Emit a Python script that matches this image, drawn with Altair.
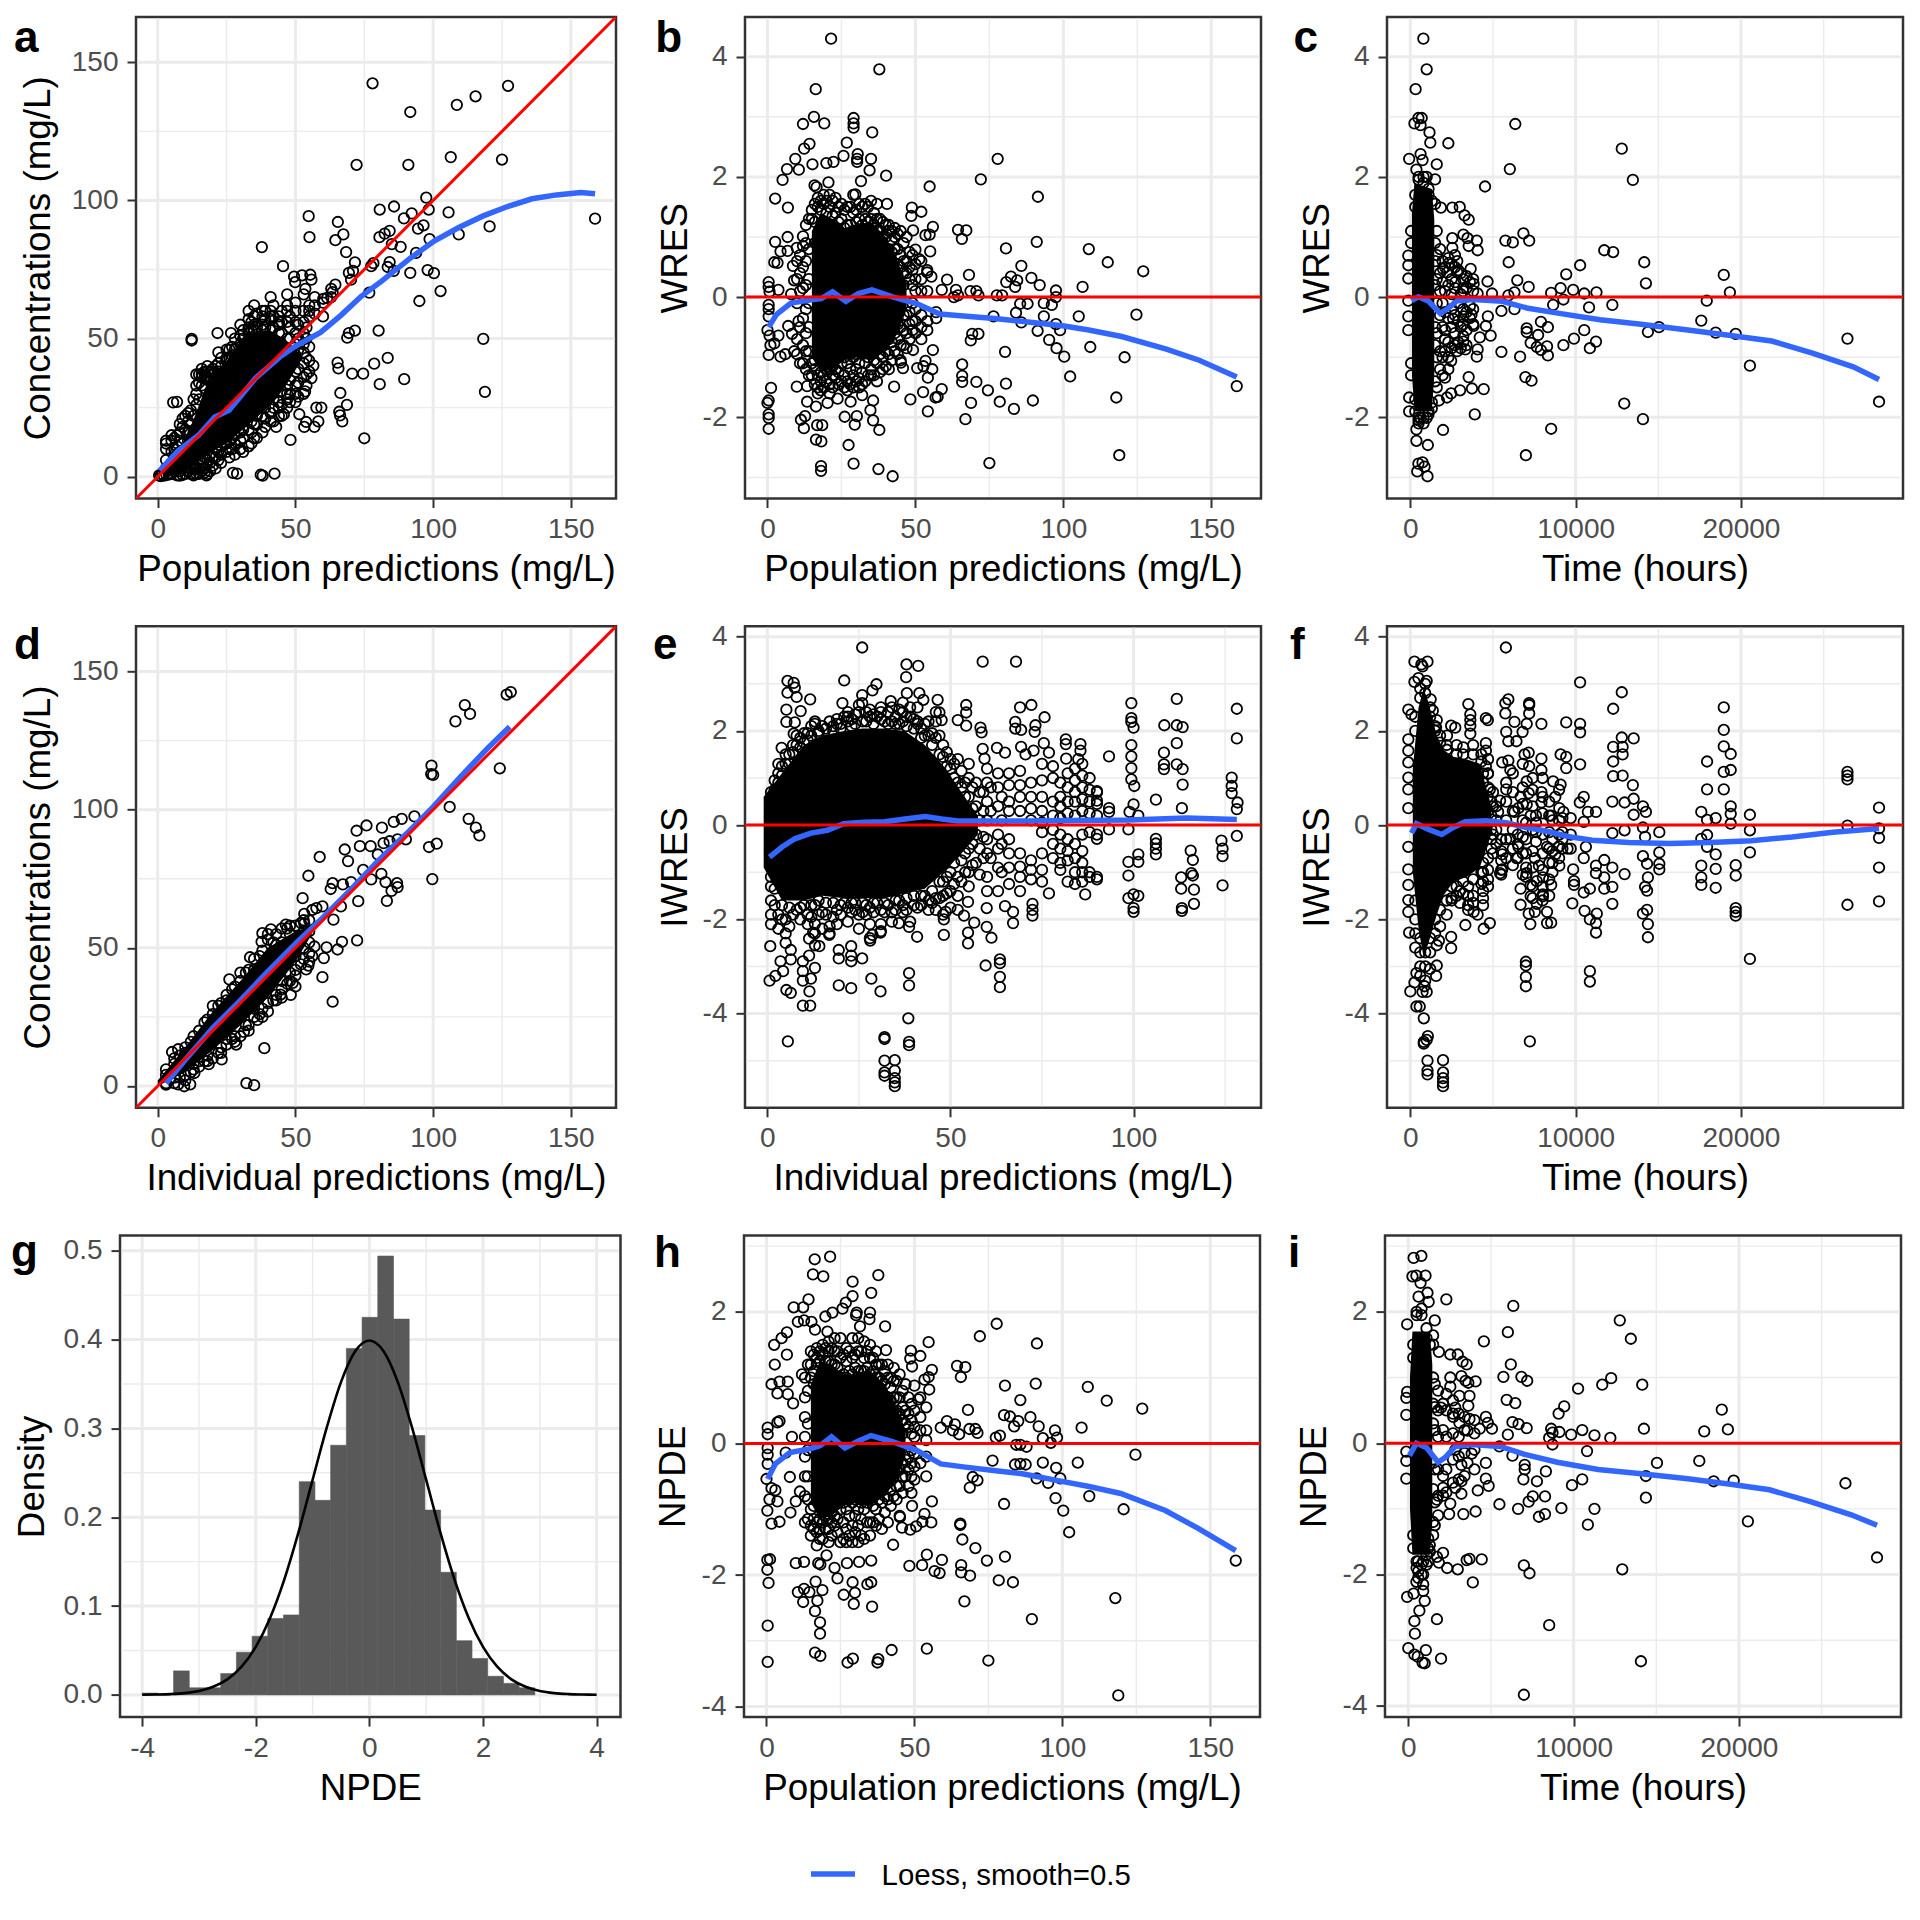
import altair as alt
import pandas as pd

FONT = "Liberation Sans"
GRID = "#EBEBEB"
BORDER = "#333333"
BLUE = "#3366FF"
RED = "#FF0000"

# ---------- panel a ----------
a_pts = [(78,142.4),(91.7,132),(108.6,134.6),(115.4,137.7),(127.2,141.5),(72.2,112.9),(91,112.9),(106.4,115.7),(125,114.8),(97.5,101),
(80.6,96.7),(85.8,97.8),(92.2,95.3),(98.4,96.7),(105.6,95.7),(120.5,90.6),(158.8,93.4),(89.4,93.5),(96.5,91),(109.3,87.7),(94.5,89.8),(98.7,86),
(80.5,86.7),(82.4,88),(84.2,89),(88.2,83.2),(85,84.2),(93.8,81),(84.2,77.7),(98,74.8),(100.3,73.7),(91.7,73.8),(85.7,74.5),(83.5,75.9),(102.7,67.2),
(95,63.6),(76.8,66.6),(78.3,77.3),(77.5,76.2),(71.6,77.6),(68.4,81.3),(64.5,85.6),(67.4,87.7),(65.4,92.2),(54.8,94.3),(55.1,86.7),(37.8,83.1),(45.5,76.2),
(49.5,72.4),(52.4,72.9),(55.4,73.1),(55.8,71.3),(49.9,70.4),(53.6,68),(69.4,73.8),(70.9,74.5),(70.2,71.3),(64.5,69.5),(63.5,66.8),(60.1,64.4),(61.5,64.7),
(12.3,49.9),(12.3,49.3),(21.7,52),(26.6,52),(80.2,52.9),(71.6,52.9),(69.4,52),(68.8,50.3),(118.2,49.9),(83.5,43),(78.6,40.9),(65.3,41.3),(65.6,39.2),
(70.6,37.3),(74.6,37.3),(89.5,35.3),(80.6,33.5),(118.8,30.7),(66.3,30.3),(68.7,26),(65.9,23.5),(66.2,22.2),(67,20),(75,13.9),(5.6,26.9),(7,27.1),(48.2,13.3),
(43,18),(57.6,25),(59.4,25),(58.3,20),(53.9,19.8),(53.2,18),(56.9,18),(51.4,22.6),(45.8,22.6),(53.5,30.9),(55.8,35.7),(56.5,40.2),(27.3,1.4),(28.8,1.1),
(37.4,.7),(38.1,.4),(42.4,1.1),(17.7,.5),(8,.4),(13,.5),(.5,.5),(1,.2),(1.6,1),(2.2,.4),(3.2,.6),(4.2,.8)]
a_cols = {3:[3,6,10,12,13],5:[1,5,9,13,15],7:[.5,3,8,15,11],9:[.6,6,12,18,21],10:[22,17,1],12:[19,24,3,1],14:[30,37,26,1,3,33],16:[37,33,39,2,5,36],18:[38,36,35,1,6,40],
20:[39,37,7,4,34],22:[41,45,9,6,38],25:[46,42,12,9,38,43],27:[47,44,10,14,40],30:[55,48,13,10,16,45,51],33:[54,60,57,11,17,52],35:[62,58,55,14,19,53],38:[55,58,16,22,60,53],
41:[65,60,58,57,23,20,53],44:[58,56,55,22,27,25,52],47:[66,60,56,50,25,28,33,62,30],50:[63,60,56,52,27,30,38,44,33,48],53:[66,60,52,48,45,30,41,36,56],55:[58,62,47,42,38,60],57:[62,65,59],60:[63,58],63:[65,68],
6:[2,4,7,10,14],8:[2,5,9,13,16,19],11:[2,6,13,16,20,23],13:[1,3,5,16,22,28],15:[1,3,6,28,34,37],17:[1.5,3,7,32,36,38],19:[2,5,8,35,38],21:[3,7,10,36,40],23:[5,8,11,40,43],26:[7,10,13,43,46],28:[8,12,15,46,50],31:[9,14,17,50,53],34:[12,16,20,53,56],36:[14,19,22,54,59],39:[18,21,25,54,57,60],42:[20,25,28,54,58,62],45:[22,26,31,52,56,60],48:[27,30,35,50,54,58],51:[29,34,39,46,50,55],54:[33,37,43,50,54]}
a_core_x = [2,8,12,18,25,32,40,46,52]
a_core_lo = [0,1,3,8,12,18,25,32,42]
a_core_hi = [3,10,18,34,42,52,53,50,44]
a_loess = [(.7,2.2),(7.4,9.4),(14.8,15),(20.7,21.6),(25.9,24),(31,30.2),(35.5,35.7),(44.3,43.3),(50.2,47.4),(59.1,52.2),(66.5,58.4),(73.9,65.3),(81.3,70.8),(91.7,79.1),(100.5,85.4),(109.3,90.2),(118.2,94.4),(127,97.8),(135.9,100.6),(144.8,102),(153.6,102.9),(158.8,102.4)]

# ---------- panel d ----------
d_pts = [(128.2,142.6),(126.7,141.7),(111.5,137.9),(113.4,134.7),(108.1,132),(124.2,115),(99.4,116),(99.3,112.9),(100,112.6),(106,101),(112.9,96.7),(115.5,93.5),(116.8,90.7),
(98.5,86.5),(101.3,87.7),(99.7,74.9),(93.2,97.6),(88.6,96.7),(85.7,95.6),(81.4,93.5),(75.8,94.3),(72.2,92.4),(77.3,86.8),(73.4,86.8),(67.9,85.6),(82,87.9),(84.2,88.6),(87.1,89.3),(90.1,89.3),
(79.9,83.8),(69.1,81.4),(58.8,82.9),(54.7,76.1),(74.6,78.2),(77.5,74.8),(81.2,76.8),(82.7,73.8),(86.9,73.4),(87.1,72),(84.9,70.6),(83.2,67),(72.8,66.9),(63.5,73.4),(67.2,73),(70.2,73.8),(62.8,71.3),
(52.6,68),(57.6,64.4),(59.8,65),(56.1,63.7),(53.2,62.3),(63.8,60.2),(66.5,65),(46.5,58.4),(53.2,58.8),(41.1,56.7),(38,55.3),(37.7,52.2),(72.4,52.7),(66.9,52.2),(65.3,49.4),(61.3,50.2),(60.3,46.3),
(59.8,39.4),(63.5,30.5),(53.9,42.2),(56.9,50.5),(56.1,47),(54.7,43.6),(49,37.3),(48.3,33),(33.5,46.6),(26,38.6),(44.6,33.1),(36.2,23.9),(31.3,19.6),(28.5,15),(38.7,13.7),(23.2,9.6),(18.5,7.9),
(32.2,1),(35,.3),(5.2,12.3),(7.4,13.3),(13.3,4.7),(11.8,.6),(9.6,-.1),(7.4,.6)]
d_cols = {3:[4,6,1,.5],6:[8,10,1,3],10:[14,2,4,12],13:[18,6,8],15:[20,7,9],18:[24,9,11],20:[29,10,26],23:[30,14,12],25:[33,15,17,31],28:[36,18,16],30:[41,18,38],33:[42,22,20],35:[46,42,25,28],38:[49,28,25],
40:[53,55,27,30],43:[55,33,31,51],45:[57,52,35,38,32],48:[58,38,41,55],50:[58,40,42,36,47],53:[60,46,50,56],55:[56,60,52,48,45],8:[11,3],12:[16,5],17:[23,9],22:[29,12],27:[35,17],32:[41,22],37:[47,26],42:[52,31],47:[57,37],52:[59,44]}
d_core_x = [0,10,20,30,40,50,56]
d_core_lo = [0,5,13,22,32,45,55]
d_core_hi = [2,14,27,38,50,56,58]
d_loess = [(3,1),(10,9.5),(20,21),(30,31),(40,41.5),(50,51.5),(60,61),(70,71),(80,81.5),(90,91),(100,101),(110,112),(120,122.5),(127.8,130)]

# ---------- panel b ----------
b_pts = [(21.5,4.3),(37.8,3.79),(16.3,3.46),(15.7,3),(29.1,2.98),(29.1,2.89),(29.1,2.82),(12,2.88),(19.2,2.89),(35.4,2.74),(26.8,2.57),(14.2,2.55),(12.4,2.47),(25.7,2.35),(30.5,2.38),(30.3,2.3),(30.3,2.25),
(35,2.3),(9.4,2.3),(15.2,2.21),(19.9,2.23),(22.3,2.25),(6.6,2.13),(10.6,2.12),(34.5,2.11),(40.1,2.02),(5.1,1.95),(31.6,1.93),(20.6,1.91),(15.9,1.86),(16.6,1.83),(54.8,1.84),(72.1,1.96),(77.8,2.3),(91.4,1.67),
(2.6,1.64),(6.9,1.49),(29.7,1.71),(40.4,1.55),(48.8,1.49),(48.6,1.35),(52,1.42),(55.9,1.17),(54.8,1.04),(53.4,1.03),(49.2,1.11),(64.4,1.12),(67.2,1.11),(65.7,.97),(80.6,.81),(91,.92),(108.6,.8),(115,.58),(127,.43),
(85.8,.52),(55,.76),(50,.79),(51.3,.63),(68.1,.37),(82.3,.34),(80.7,.25),(84.4,.28),(89.2,.32),(92,.2),(106.5,.17),(83.7,.17),(97.5,.11),(54,.41),(55.4,.34),(60.7,.29),(58.9,.12),(63.7,.12),(63,0),(64.4,.03),(68.6,.1),(70.6,.1),(71.3,.03),
(77.5,.03),(79.3,.03),(97.5,0),(96.1,-.13),(93.4,-.1),(87.9,-.11),(85.4,-.11),(105.2,-.32),(124.7,-.29),(93.4,-.32),(84,-.26),(85.8,-.42),(76.4,-.32),(97.5,-.45),(98.9,-.55),(91.3,-.56),(71.3,-.61),(69.2,-.61),(68.7,-.72),
(95.2,-.71),(109.1,-.83),(97.7,-.85),(80.3,-.91),(100.3,-.99),(120.7,-1),(102.3,-1.32),(158.6,-1.48),(55.9,-.88),(49.2,-.88),(53.4,-1.06),(55.7,-1.2),(45.1,-1.09),(45.8,-1.18),(50.6,-1.18),(52.7,-1.15),(65.8,-1.12),(65.8,-1.31),(65.8,-1.41),
(54.2,-1.34),(70.6,-1.41),(74.5,-1.55),(80.6,-1.44),(52.6,-1.58),(58.9,-1.53),(57.5,-1.66),(56.8,-1.67),(48.3,-1.7),(42.8,-1.49),(68.8,-1.76),(78.5,-1.74),(89.7,-1.72),(83.3,-1.86),(54.2,-1.9),(66.9,-2.03),(117.9,-1.67),(118.9,-2.63),(75,-2.76),
(42.3,-2.98),(37.5,-2.86),(29.1,-2.77),(18.1,-2.81),(18.1,-2.89),(27.4,-2.46),(16.4,-2.37),(18.2,-2.4),(37.8,-2.21),(35.7,-2.05),(29.5,-2.12),(30.2,-1.98),(26.1,-1.99),(16.8,-2.13),(18.5,-2.13),(11.3,-2.04),(12.3,-2.18),(12.7,-1.98),
(.4,-2.19),(.4,-2.01),(.4,-1.95),(0,-1.76),(.4,-1.72),(1.2,-1.51),(13.4,-1.74),(16.4,-1.82),(20.3,-1.76),(23.7,-1.69),(28.1,-1.74),(32,-1.63),(35.7,-1.72),(34.8,-1.88),(9.9,-1.49),(13.4,-1.48),
(.4,.25),(.4,.17),(.7,.09),(3.7,.12),(.4,-.13),(.4,-.2),(.4,-.32),(0,-.55),(.7,-.64),(1,-.8),(.4,-.96),(4.4,-.99),(2.3,-.77),(3.7,-.64),(2.6,.92),(4.4,.76),(3.4,.57),(6.8,1),(6.8,.77),(2.3,.58),(8.6,.52),(9,.28),(12,1.01),(9.9,.82),(7,-.48),(8.3,-.61),(6,-.95),(9,-.9),(10.5,-.4),(8,.05)]
b_cols = {11:[.7,.4,.1,-.5,-1.1],13:[1.2,.9,.6,.2,-.2,-.6,-.9,-1.2],15:[1.45,1.3,-1.1,-1.3],17:[1.65,1.5,-1.3,-1.5,-1.6],19:[1.7,1.55,-1.3,-1.5],21:[1.7,1.5,-1.2,-1.45,-1.6],23:[1.65,1.4,-1.2,-1.35,.7,-.4],25:[1.55,1.3,1,.85,-.8,-1.1,-1.4],27:[1.5,1.2,1,.8,-.8,-1.1,-1.4,-1.55],29:[1.7,1.4,1.1,-.7,-1,-1.3,-1.5],31:[1.55,1.3,1.1,-.7,-1.1,-1.35,-1.5],33:[1.55,1.3,1.1,-.8,-1.1,-1.4],35:[1.6,1.3,1.1,-.8,-1.2,-1.3],37:[1.55,1.3,1.1,-.8,-1.1,-1.4],39:[1.25,1,.85,-.8,-1,-1.2],41:[1.2,1.1,.8,-.7,-.95,-1.2],43:[1.15,1,.8,-.6,-.9],45:[1.1,.7,.5,-.5,-.8,-1.05],47:[1,.6,.4,-.3,-.6,-.85],49:[.7,.45,.2,-.1,-.4,-.55],52:[.6,.3,.1,-.3,-.5,-.7],54:[.45,.1,-.4,-.55],57:[-.25,-.35],
14:[1.3,.8,.3,-.1,-.5,-.9,-1.3],16:[1.55,1.25,.9,-1.05,-1.2,-1.45],18:[1.6,1.45,-1.25,-1.4,-1.55],20:[1.6,1.4,-1.2,-1.4],22:[1.6,1.35,-1.15,-1.3,-1.5],24:[1.5,1.25,.9,.7,-.9,-1.25,-1.45],26:[1.45,1.15,.9,.75,-.85,-1,-1.3,-1.5],28:[1.5,1.2,.95,.8,-.75,-.95,-1.2,-1.45],30:[1.45,1.25,1,-.7,-.95,-1.2,-1.4],32:[1.5,1.2,1.05,-.75,-.95,-1.25,-1.45],34:[1.5,1.25,1.05,-.8,-1,-1.3],36:[1.4,1.2,1.05,-.75,-1.05,-1.3],38:[1.3,1.1,.9,-.7,-.95,-1.25],40:[1.2,1,.8,-.65,-.9,-1.15],42:[1.1,.95,.75,.45,-.5,-.75,-1.05],44:[1.05,.8,.55,.35,-.45,-.7,-.95],46:[.9,.6,.4,.2,-.3,-.55,-.8],48:[.75,.5,.3,-.25,-.45,-.7],50:[.55,.3,.1,-.2,-.4,-.6],10:[.6,.3,-.1,-.7,-.95],12:[.85,.5,.15,-.35,-.8,-1.1]}
b_core_x = [15,18,22,26,30,35,40,44,47]
b_core_lo = [-1,-1.25,-1.2,-1.05,-1,-1.05,-.9,-.6,-.2]
b_core_hi = [1.1,1.4,1.3,1.15,1.2,1.25,1,.6,.2]
b_loess = [(.4,-.5),(3,-.29),(7.9,-.1),(14.8,-.045),(18.2,-.025),(22,.09),(26.5,-.07),(30.7,.06),(35.3,.12),(42.3,.005),(50.6,-.11),(58.2,-.28),(67.2,-.32),(76.8,-.356),(86.5,-.407),(100.3,-.48),(108.6,-.547),(119.7,-.655),(134.8,-.865),(145.9,-1.05),(158.6,-1.33)]

# ---------- panel c ----------
c_pts = [(790,4.3),(990,3.79),(320,3.46),(490,2.98),(690,2.98),(250,2.89),(620,2.86),(1160,2.74),(1210,2.57),(2300,2.56),(6350,2.88),(6020,2.13),(12790,2.47),(13460,1.95),(4520,1.84),(-70,2.3),(620,2.38),(740,2.28),(1600,2.21),(1500,1.96),(990,2),(370,2.12),
(1850,1.49),(2540,1.49),(2990,1.5),(3280,1.36),(3530,1.29),(3210,1.04),(2540,.98),(3460,.98),(4020,.94),(3530,.85),(4070,.78),(2540,.82),(6840,1.06),(5750,.94),(6200,.91),(7190,.94),(5950,.58),(11730,.78),(12270,.75),(14150,.58),(14250,.23),(10270,.53),(9430,.38),
(18960,.37),(19330,.08),(4670,.26),(6470,.28),(7160,.17),(9090,.15),(9850,.12),(8520,.07),(10520,.06),(11260,.08),(2840,.6),(2350,.57),(1980,.47),(3650,.47),(2840,.41),(2220,.41),(2720,.25),(3210,.15),(3830,.22),(4070,.06),(4940,.06),(5930,.03),(6300,.08),
(-120,.69),(-120,.53),(-120,.31),(-120,-.06),(-120,-.32),(-120,-.55),(17930,-.06),(17600,-.39),(12220,-.13),(10810,-.17),(8640,-.13),(9260,-.04),(15040,-.5),(14370,-.58),(18470,-.59),(19680,-.61),(10520,-.55),(9900,-.69),(9260,-.8),(11230,-.74),(10860,-.85),
(20540,-1.14),(26440,-.69),(28350,-1.74),(7040,-.52),(7040,-.58),(7900,-.41),(8320,-.5),(7730,-.63),(7280,-.76),(7650,-.83),(8270,-.82),(7900,-.88),(8320,-.97),(6640,-.99),(5510,-.91),(6960,-1.33),(7330,-1.39),(8520,-2.19),(6990,-2.63),(12940,-1.77),(14070,-2.03),
(3830,-.48),(4690,-.32),(4570,-.48),(4860,-.64),(4200,-.67),(4070,-.87),(4020,-.99),(3330,-.87),(2470,-1.06),(2840,-.9),(3210,-.74),(5510,-.23),(6300,-.2),(2590,-.36),(3210,-.32),(3700,-.29),(2100,-1.34),(3530,-1.33),(3010,-1.55),(3730,-1.52),(4440,-1.53),(2470,-1.6),(2220,-1.67),(1730,-1.72),
(3900,-1.95),(1980,-2.21),(-70,-1.67),(-70,-1.9),(370,-2.2),(620,-2.01),(990,-2.01),(370,-2.39),(1060,-2.46),(490,-2.77),(740,-2.75),(860,-2.82),(420,-2.9),(1040,-2.98)]
c_cols = {1500:[1.55,.9,.6,-1.4,-.8,-.5,.2],1800:[.8,.4,-.3,-.9,-1.2,.1],2100:[.5,.1,-.55,-.9,-.7,-.25],2500:[.55,.3,-.2,-.5,-.85,.05],2900:[.45,-.1,-.4,-.75],3200:[.3,.1,-.2,-.45,-.65],3600:[.25,-.15,-.35],
1600:[1.1,.7,.3,-.1,-.6,-1,-1.5],1950:[.6,.25,-.1,-.5,-1,-1.3],2300:[.65,.2,-.35,-.75,-1,-1.2],2700:[.7,.5,.15,-.3,-.6,-.8],3050:[.4,.05,-.5,-.85],3400:[.35,.15,-.25,-.55,-.8],3800:[.3,.1,-.2,-.45],300:[1.7,1.5,-1.7,-1.9],500:[2,1.95,-2,-2.05,-2.1],800:[2,1.9,-2,-2.1],1100:[1.8,1.7,-1.9,-1.95],1300:[1.6,-1.75,-1.85],50:[1.1,.9,-1.1,-1.3]}
c_core_x = [100,250,1300,1450]
c_core_lo = [-1.3,-1.9,-1.9,-1.3]
c_core_hi = [1.4,1.9,1.8,1.3]
c_loess = [(70,-.06),(490,.006),(1110,-.07),(1800,-.27),(2220,-.2),(2840,-.06),(3830,-.04),(5560,-.07),(7040,-.18),(9010,-.27),(11480,-.375),(13950,-.45),(16910,-.55),(19380,-.64),(21850,-.73),(24320,-.93),(26790,-1.16),(28350,-1.37)]

# ---------- panel e ----------
e_pts = [(25.9,3.77),(58.8,3.47),(67.9,3.47),(38,3.41),(41.2,3.38),(37.9,3.14),(21,3.07),(29.8,2.99),(5.5,3.06),(7.2,3.02),(7.5,2.92),(5.5,2.81),(8,2.72),(11.7,2.67),(20.5,2.59),(5.2,2.45),(9.1,2.42),(5.2,2.19),(7.5,2.18),(7.2,1.94),(3.9,1.64),
(28.7,2.86),(25.9,2.76),(25.9,2.59),(33.7,2.63),(38.1,2.8),(41.5,2.8),(42.6,2.66),(46.5,2.66),(47,2.39),(47.6,2.23),(54.3,2.55),(54.3,2.39),(52,2.23),(54.3,2.11),(58.2,2.07),(58.5,1.97),(69,2.5),(72.1,2.55),(75.7,2.29),(73.2,2.12),(73,1.98),(67.7,2.19),(67.7,2.05),(69.3,2.02),
(62.7,1.64),(64.9,1.54),(58.8,1.62),(59.3,1.41),(69.3,1.66),(70.5,1.5),(72.7,1.58),(75.5,1.74),(76.9,1.54),(81.5,1.82),(81.5,1.72),(85.5,1.72),(85.5,1.58),(81.6,1.41),(84.9,1.4),(93.3,1.46),(99.4,2.59),(99.4,2.27),(99.4,2.19),(100,2.07),(99.4,1.7),(99.4,1.46),(99.4,1.21),(99.4,.97),(100.2,.83),
(111.8,2.68),(108.4,2.12),(111.8,2.12),(113.4,2.08),(111.8,1.74),(111.8,1.29),(113.4,1.19),(113.4,.86),(108.3,1.54),(108.3,1.29),(108.3,1.19),(128.2,2.47),(128.2,1.84),(106.1,.54),(113.2,.36),(100,.44),(98.9,.28),(101.3,.2),(93.3,.36),(93.3,.28),(93.3,-.09),(126.8,1.01),(126.8,.83),(126.8,.68),(128.4,.48),(128.2,.34),(128.2,-.23),
(90,.72),(90,.52),(90,-.29),(106.1,-.29),(106.1,-.39),(106.1,-.5),(106.1,-.62),(101.3,-.62),(101.3,-.78),(98.6,-.09),(98.6,-.78),(98.6,-1.07),(115.6,-.54),(116.2,-.74),(115.8,-1.02),(116.2,-1.07),(113,-1.11),(113,-1.35),(116.5,-1.37),(116.5,-1.67),(113.2,-1.76),(113.2,-1.82),
(124,-.33),(124.3,-.5),(124.3,-.66),(124.3,-1.28),(90,-1.15),(86.8,-1.47),(98.6,-1.55),(100,-1.47),(101.3,-1.5),(100,-1.76),(100,-1.84),(76.9,-1.45),(72.4,-1.67),(72.4,-1.8),(72.4,-1.92),(67.1,-1.84),(67.1,-2.08),(64.9,-1.72),(59.9,-1.76),(59.9,-2.16),(61.2,-2.39),(54.8,-1.63),(54.8,-2.28),(54.8,-2.51),(56.5,-2.07),(53.7,-1.92),
(48.2,-2),(48.2,-2.33),(48.7,-1.84),(40.9,-2.37),(38.7,-2.16),(35.9,-2.08),(59.6,-2.98),(63.5,-2.85),(63.5,-2.93),(63.5,-3.22),(63.5,-3.44),(38.7,-3.14),(38.7,-3.4),(38.5,-4.1),(32,-4.5),(32,-4.54),(38.7,-4.6),(38.7,-4.67),(5.6,-4.59),(32,-5),(32,-5.25),(32,-5.32),(34.8,-4.99),(34.8,-5.21),(34.8,-5.37),(34.8,-5.46),(34.8,-5.54),
(28.4,-3.26),(30.9,-3.53),(19.5,-3.4),(22.9,-3.46),(25.9,-2.83),(.8,-2.57),(.6,-3.3),(2.2,-3.2),(5.2,-3.5),(6.4,-3.56),(4.3,-3.1),(3.6,-2.89),(6.4,-2.65),(6.4,-2.85),(9.7,-3.83),(11.7,-3.83),(11.5,-3.53),(9.7,-3.3),(9.7,-3.1),(11.9,-3.26),(13,-3.03),(9.7,-2.89),(11.4,-2.77),(14.2,-2.57),(11.4,-2.41),(12.5,-2.28),
(19.5,-2.65),(19.5,-2.83),(22.9,-2.57),(22.9,-2.77),(22.9,-2.89),(16.9,-2.33),(28.1,-2.45),(28.7,-2.33),(30.9,-2.28)]
e_cols = {1:[.7,.55,-1.1,-1.3,-1.6,-1.9,-2.1],3:[1.3,1.1,.9,-1.9,-2.2],5:[1.5,1.3,-2,-2.3,-2.5],8:[1.9,1.7,-1.8],11:[1.95,1.8,-1.9,-2.1],13:[2.2,2.15,-1.7,-2.1,-2.3,-2.55],15:[2.1,-1.85,-2.2],17:[2.2,-2.15,-2.3],19:[2.25,2.15,-1.8,-2.1],22:[2.4,2.3,2.2,-1.75,-2.05],25:[2.55,2.4,-1.9,-2.2],28:[2.45,2.3,-1.75,-2.1,-2.4],31:[2.5,2.4,2.25,-1.8,-2.1,-2.25],34:[2.5,2.2,-1.85,-2.05],37:[2.6,2.4,2.2,-1.7,-1.85],39:[2.5,2.3,-2.05],41:[2.5,2.2,2.15,-1.75],44:[2.2,1.9,-1.6,-1.8],46:[2.4,2.2,1.85,-1.55,-1.8],48:[1.7,1.45,-1.2,-1.5,-1.9],50:[1.4,1.2,-1,-1.4,-1.75],52:[1.4,.9,-1.1,-1.5,-1.8],
55:[1.3,1,.6,.2,-.5,-1,-1.3],60:[1.2,.9,.5,.1,-.3,-.6,-1.1,-1.4],63:[1.1,.8,.4,-.2,-.5,-.9,-1.4],66:[1.1,.85,.5,.3,-.3,-.6,-.9,-1.25],69:[1.15,.85,.6,.3,-.6,-.88,-1.1,-1.4],72:[.9,.6,.35,.1,-.75,-.95,-1.15],75:[1.3,.95,.6,.3,.05,-.15,-.6,-.95,-1.2],78:[1.25,1,.5,.2,-.1,-.4,-.7],80:[.9,.6,.4,.15,-.2,-.5,-.8,-.95],82:[1.1,.8,.5,.25,-.3,-.55,-.75,-1.2],84:[1.2,.95,.7,.5,.2,-.4,-.7,-1,-1.25],86:[1.3,1.05,.8,.55,.3,-.2,-.55,-.8,-1,-1.2],88:[1,.75,.5,.25,-.15,-1,-1.1],90:[.7,.45,.2,-.2,-1.1],
57:[.9,.4,-.2,-.8],58:[.7,.1,-.5,-1.05],61:[.8,.3,-.7],64:[.6,.1,-.4,-1],
2:[.95,.75,-1.35,-1.7],4:[1.25,1.05,-1.7,-2],6:[1.5,1.3,-1.75,-2.15],7:[1.7,1.55,-1.9],9:[1.85,1.65,-1.75,-2],10:[1.95,1.75,-1.7],12:[2.1,1.9,-1.7,-1.95],14:[2,1.95,-1.6,-1.9],16:[2.05,-1.65,-1.9],18:[2.1,2,-1.65,-1.95],20:[2.15,2.05,-1.7,-1.9],21:[2.3,-1.65],23:[2.25,2.1,-1.65,-1.85],24:[2.35,2.15,-1.65,-1.8],26:[2.2,-1.65,-1.85],27:[2.4,2.2,-1.7,-1.9],29:[2.35,2.15,-1.65,-1.85],30:[2.3,-1.65],32:[2.2,-1.65,-1.85],33:[2.4,2.15,-1.7],35:[2.3,2.15,-1.6,-1.8],36:[2.45,2.15,-1.6],38:[2.3,2.1,-1.55,-1.8],40:[2.25,2.05,-1.5,-1.7],42:[2.05,1.85,-1.5,-1.7],43:[2.15,1.9,-1.5],45:[1.95,1.7,-1.4,-1.65],47:[1.9,1.5,-1.2,-1.55],49:[1.55,1.25,-1.1,-1.45],51:[1.3,1,-.8,-1.25],53:[1.15,.8,-.75,-1.2],54:[.9,.6,-.6,-1],56:[.8,.35,-.4,-.85],59:[.7,.3,-.25,-.7]}
e_core_x = [-1,4,10,15,21,26,32,37.5,43,48.7,53,57.5]
e_core_lo = [-.9,-1.6,-1.6,-1.5,-1.55,-1.55,-1.55,-1.45,-1.35,-.95,-.6,-.2]
e_core_hi = [.6,1.1,1.7,1.9,2,2.05,2.05,2,1.7,1.2,.7,.2]
e_loess = [(.6,-.68),(4.1,-.46),(7.5,-.29),(11.9,-.17),(16.4,-.11),(20.8,.03),(26.4,.06),(32,.07),(37.6,.13),(43.1,.18),(47.6,.13),(52,.09),(59.8,.09),(70.9,.09),(82,.1),(98.9,.11),(114.5,.15),(128.2,.12)]

# ---------- panel f ----------
f_pts = [(5780,3.77),(10270,3.03),(12790,2.82),(12270,2.47),(18960,2.5),(18960,2.02),(5930,2.67),(5750,2.59),(5750,2.37),(7190,2.59),(7190,2.55),(7190,2.37),(3510,2.57),(3630,2.35),(3630,2.23),(3630,2.11),(3630,1.94),(4570,2.27),(4690,2.23),(2470,2.11),(2720,2.07),(2220,1.9),
(9430,2.18),(10270,2.15),(10270,1.97),(10270,1.29),(9430,1.21),(7930,2.15),(6300,2.19),(7040,2.15),(6790,1.98),(5800,1.98),(5930,1.78),(6420,1.78),(13510,1.84),(12790,1.86),(12270,1.66),(12840,1.66),(12840,1.5),(12270,1.35),(12270,1.04),(12840,1.05),(13460,.85),
(18960,1.67),(19380,1.51),(17950,1.35),(19380,1.17),(18960,1.13),(18960,.76),(17950,.76),(26440,1.13),(26440,1.05),(26440,.97),(28350,.37),(28350,-.07),(28350,-.27),(28350,-.9),(28350,-1.62),(26440,-.01),(26440,-1.69),(17600,.28),(17950,.11),(18470,.15),(19380,.4),(19380,.24),(19380,.03),
(20540,.22),(20540,-.11),(20540,-.58),(17950,-.21),(17600,-.29),(17950,-.46),(18470,-.62),(18470,-.93),(18470,-1.33),(17600,-.86),(17600,-1.11),(17600,-1.27),(19680,-.85),(19680,-1.07),(19680,-1.76),(19680,-1.84),(19680,-1.92),(20540,-2.84),(15060,-.15),(15060,-.58),(15060,-.82),(15060,-.94),
(14070,.4),(14250,.28),(14070,-.05),(14200,-.25),(14070,-.66),(14320,-.82),(14370,-1.11),(14200,-1.31),(14320,-1.39),(14320,-1.8),(14070,-1.88),(14370,-2.1),(14370,-2.38),(13510,.56),(13510,.22),(12960,.48),(12220,.5),(12220,-.17),(12960,-.11),(12960,-1.04),
(12220,-.9),(12220,-1.31),(12220,-1.67),(11730,-.74),(11230,-.86),(11230,-1.02),(11730,-1.11),(11730,-1.35),(11280,-1.88),(11230,-2.08),(11230,-2.28),(10860,-2),(10860,-3.1),(10860,-3.32),(10490,-1.43),(10540,-1.82),(10860,-1.35),(9850,-.94),(9900,-1.19),(9900,-1.27),(9800,-1.66),(10490,.6),(10250,.48),(10740,.28),(11230,.28),(10490,.07),(10620,-.46),(10490,-.7),
(9090,1.5),(9090,.86),(8640,.93),(9430,1.45),(7930,1.41),(7930,1.17),(7930,.7),(7930,.48),(8770,.6),(8520,.2),(9260,.28),(9010,.36),(6910,1.5),(7160,1.54),(7190,1.25),(7040,.93),(7160,.68),(6670,.6),(7040,.44),(6540,.36),(7280,.2),(6300,.28),(5930,1.37),(6050,1.17),(5560,1.33),(5800,.76),(5430,.52),
(4570,1.74),(4570,1.58),(4570,1.25),(4690,1.09),(4810,.76),(4690,.6),(5310,.28),(6990,-2.9),(6990,-2.98),(6990,-3.22),(6990,-3.42),(7230,-4.59),(6670,-1.69),(6670,-1.35),(7260,-2.1),(7040,-1.02),(7280,-1.27),(7650,-1.19),(8020,-1.51),(7530,-1.84),(7160,-1.88),
(8270,-1.84),(8270,-2.08),(8520,-2.07),(8520,-1.27),(8020,-1.11),(9010,-.86),(8770,-.62),(8270,-.46),(9510,-.5),(7530,-.7),(7780,-.86),(7280,-1.51),(8020,-1.47),(7650,-1.67),(6540,-.46),(6050,-.29),(5560,-.62),(5560,-.94),(5430,-1.02),(6420,-.7),
(4810,-2.08),(4440,-2.2),(4070,-1.9),(3330,-2.12),(3830,-1.84),(2470,-2.37),(2470,-2.61),(1600,-2.55),(1730,-2.45),(1600,-2.98),(1560,-3.2),(-70,-2.28),(0,-3.53),(370,-3.85),(570,-3.85),(815,-4.1),(1060,-4.48),(990,-4.56),(815,-4.64),(815,-4.6),
(1040,-5),(1040,-5.21),(1040,-5.29),(1980,-4.99),(1980,-5.25),(1980,-5.37),(1980,-5.46),(1980,-5.54),(250,3.47),(1040,3.47),(670,3.41),(740,3.37),(250,3.04),(990,3.06),(490,3.12),(-120,2.45),(70,2.35),(-120,1.82),(-120,1.58),(-120,1.33),(-120,1.01),(-120,.76),(-120,.36),(-120,-.46),(-120,-.94),(-120,-1.27),(-120,-1.59),(-120,-1.84),
(1230,2.67),(1360,2.43),(1600,2.23),(1560,2.07),(370,-3.14),(250,-3.34),(740,-3.54),(990,-3.54),(860,-3.42)]
f_cols = {4400:[-1,-1.2,-1.4,-1.55,-1.7,-.8,1.1,.9],4900:[-.3,-.5,.5,.2,-.1],3500:[-1.3,-1.5,-1.7,-1.8],2500:[-1.3,-1.6,-1.55],3000:[-1.4,-1.65],5500:[-.3,-.55,-.75,-.95,-1.05],6500:[-.2,-.4,-.7],7000:[-.3,-.6,-.9,-1.1,.05],7600:[.2,.05,-.15,-.35],8600:[-.3,-.55,-.8,-1,.1],9200:[-.3,-.5,-.15,.15],5200:[.1,-.1,-.4,.4],
300:[2.3,2,-1.6,-2,-2.3,-2.6],600:[2.9,2.7,-2.4,-2.7,-3,-3.2],900:[3,2.8,-2.7,-3,-3.3],1200:[2.5,2.3,-2.4,-2.7,-3.05],1500:[2.1,2,-2,-2.3],1800:[1.9,1.75,-1.8,-2.15],2200:[1.7,1.6,-1.6,-1.9],2800:[1.7,1.5,-1.3,-1.5],3200:[1.65,1.5,-1.2,-1.45],3800:[1.7,1.5,-1.15,-1.5,-1.65],4300:[1.5,1.35,-1,-1.25],4700:[1.4,1.1,.8,.3,-.7,-.95,-1.15,-1.3],5000:[.7,.4,-.2,-.6],
5800:[.9,.5,.1,-.3,-.7],6200:[1.1,.7,.3,-.1,-.5,-.85],6800:[1.3,.8,.45,.1,-.25,-.6,-1.05],7400:[1,.75,.4,-.1,-.55,-.9,-1.3,-1.55],8000:[1,.6,.25,-.2,-.6,-.95,-1.3,-1.6],8400:[.5,.2,-.15,-.5,-.8,-1.15,-1.5],9000:[.75,.1,-.2,-.45,-.7],9700:[.15,-.2,-.5]}
f_core_x = [150,500,800,1100,1600,2000,2600,3400,4200,4900]
f_core_lo = [-1,-2.2,-2.8,-2.5,-1.9,-1.5,-1.2,-1.1,-.9,-.2]
f_core_hi = [1.2,2.5,2.9,2.6,1.9,1.6,1.45,1.4,1.3,.4]
f_loess = [(70,-.17),(370,.03),(1110,-.09),(1900,-.2),(2590,-.05),(3330,.07),(4570,.09),(5800,.05),(7040,-.05),(8270,-.13),(9510,-.24),(10990,-.32),(13210,-.37),(15680,-.39),(18150,-.37),(20620,-.33),(23090,-.25),(25560,-.15),(28350,-.07)]

# ---------- panel g ----------
g_edges = [-4,-3.7235,-3.447,-3.1705,-2.894,-2.6175,-2.341,-2.0645,-1.788,-1.5115,-1.235,-.9585,-.682,-.4055,-.129,.1475,.424,.7005,.977,1.2535,1.53,1.8065,2.083,2.3595,2.636,2.9125]
g_heights = [.002,.001,.027,.008,.008,.024,.048,.066,.086,.09,.24,.219,.281,.39,.425,.494,.423,.292,.208,.138,.061,.041,.021,.013,.008]
g_curve_x = [-4,-3.75,-3.5,-3.25,-3,-2.75,-2.5,-2.25,-2,-1.75,-1.5,-1.25,-1,-.75,-.5,-.25,0,.25,.5,.75,1,1.25,1.5,1.75,2,2.25,2.5,2.75,3,3.25,3.5,3.75,4]
g_curve_y = [.0001,.0004,.0009,.002,.0044,.0091,.0175,.0317,.054,.0863,.1295,.1826,.242,.3011,.3521,.3867,.3989,.3867,.3521,.3011,.242,.1826,.1295,.0863,.054,.0317,.0175,.0091,.0044,.002,.0009,.0004,.0001]

# ---------- panel h ----------
h_pts = [(21.5,2.84),(16.3,2.8),(15.7,2.57),(19.2,2.54),(29.1,2.46),(37.8,2.56),(35.4,2.29),(29.1,2.24),(14.2,2.19),(12.4,2.07),(9.2,2.07),(26.8,2.14),(25.7,2.05),(22.3,1.99),(19.9,1.93),(30.5,1.99),(30.3,1.95),(35,1.99),(34.8,1.89),(10.6,1.85),(15.2,1.85),(12.7,1.87),(16.4,1.73),(20.6,1.7),(31.6,1.78),(40.1,1.78),
(6.9,1.69),(5.1,1.6),(2.6,1.5),(6.9,1.35),(2.8,1.2),(54.8,1.54),(48.8,1.41),(52,1.33),(48.6,1.29),(40.4,1.42),(55.9,1.12),(54.8,1.01),(53.4,.97),(49.2,1.17),(64.4,1.18),(67.2,1.16),(65.7,1.01),(77.8,1.82),(72.1,1.63),(91.4,1.52),(91,.91),(80.6,.88),(108.6,.86),(115,.65),(127,.53),(85.8,.66),(55,.82),(50,.88),(51.3,.67),(68.1,.51),
(80.3,.43),(82.3,.41),(85.1,.34),(89.2,.4),(92,.26),(83.7,.26),(106.5,.24),(97.5,.2),(98.2,.09),(93.4,.08),(96.1,.01),(58.9,.24),(61,.34),(63.7,.29),(63,.2),(65.1,.14),(68.6,.22),(70.6,.22),(71.3,.16),(77.5,.09),(78.9,.12),(84.4,-.02),(85.8,-.02),(87.9,-.05),(76.4,-.26),(84,-.32),(85.8,-.31),(87.6,-.32),(93.4,-.29),(97.9,-.37),(105.2,-.29),(124.7,-.17),
(91.3,-.53),(95.2,-.6),(99.3,-.53),(71.3,-.56),(69.7,-.51),(68.7,-.67),(97.7,-.83),(109.1,-.8),(80.3,-.92),(100.3,-1.02),(120.7,-1),(102.3,-1.35),(158.6,-1.78),(55.9,-.88),(49.2,-.95),(53.4,-1.07),(55.7,-1.2),(45.1,-1.12),(45.8,-1.28),(50.6,-1.26),(52.7,-1.19),(48.6,-1.31),(65.5,-1.22),(65.5,-1.24),(66.2,-1.46),
(70.6,-1.59),(74.5,-1.78),(80.6,-1.72),(54.2,-1.69),(48.3,-1.86),(52.6,-1.85),(56.8,-1.94),(58.5,-1.97),(59.3,-1.77),(65.8,-1.85),(65.8,-1.96),(68.8,-2.01),(78.5,-2.08),(83.3,-2.11),(66.9,-2.4),(89.7,-2.67),(117.9,-2.35),(118.9,-3.83),(42.8,-1.54),(54.2,-3.12),(75,-3.3),(42.3,-3.14),(37.5,-3.33),(37.8,-3.28),(29.2,-3.27),(27.4,-3.33),(16.4,-3.18),(18.2,-3.23),
(18.1,-2.72),(18.1,-2.89),(16.4,-2.55),(17.2,-2.39),(18.9,-2.23),(14.5,-2.26),(12.7,-2.21),(10.6,-2.26),(12.4,-2.41),(16.6,-2.1),(35.7,-2.48),(29.5,-2.44),(26.1,-2.3),(29.9,-2.27),(29.1,-2.11),(34.1,-2.14),(35.4,-2.11),(24,-2.05),(23,-1.89),(.4,-3.32),(.4,-2.77),(.7,-2.12),(.3,-1.92),(.3,-1.77),(1.2,-1.76),
(9.9,-1.82),(12.7,-1.8),(17.5,-1.82),(18.2,-1.84),(27.2,-1.82),(31.3,-1.8),(35.4,-1.78),(20.3,-1.7),(.4,.24),(.4,.14),(.4,-.07),(.4,-.17),(.4,-.31),(0,-.54),(1.7,-.68),(3,-.71),(1,-.85),(3.7,-.88),(.3,-1.02),(1.7,-1.22),(4.4,-1.19),(8.1,-1.05),(3.7,.32),(4.4,.34),(1.7,.9),(4.4,.94),(7.2,.94),(3.7,.76),(7.2,.75),(9,.61),(12,1.05),(8.6,.1),(6.5,-.14),(7.9,-.51),(11.3,-.73),(9.9,-.88)]
h_cols = {13:[1,.7,.4,.1,-.2,-.5,-.8,-1.2],15:[1.4,1.2,1,-1,-1.25,-1.4],17:[1.45,1.3,1.2,-1.2,-1.35,-1.55],19:[1.5,1.35,-1.2,-1.45],21:[1.55,1.4,1.25,-1.15,-1.3,-1.5],23:[1.6,1.4,1.2,-1.1,-1.25],25:[1.6,1.3,1,.8,-.8,-1,-1.5],27:[1.45,1.25,1,.85,-.7,-1,-1.3,-1.5],29:[1.6,1.3,1.05,.9,-.7,-.9,-1.25,-1.5],31:[1.6,1.4,1.1,.95,-.7,-1,-1.25,-1.5],33:[1.55,1.3,1.1,-.75,-1,-1.45],35:[1.5,1.3,1.05,-.8,-1.2,-1.4],37:[1.4,1.2,1,-.7,-1,-1.25],39:[1.2,.95,.75,-.65,-.9,-1.3],41:[1.2,1,.7,-.6,-.85,-1.2],43:[1.15,.95,.7,.5,-.5,-.8],45:[1.05,.7,.45,-.4,-.65,-1.1],47:[.9,.5,.3,-.25,-.5],49:[.6,.35,.15,-.1,-.3,-.5,-.75],52:[.7,.4,.2,-.3],54:[.55,.2,.05,-.5,-.2],
14:[1.2,.8,.3,-.1,-.5,-.85,-1.15],16:[1.35,1.1,.9,-.95,-1.15,-1.3],18:[1.4,1.25,-1.15,-1.3,-1.45],20:[1.45,1.25,-1.1,-1.3],22:[1.45,1.2,-1.05,-1.2,-1.4],24:[1.4,1.15,.85,.7,-.8,-1.15,-1.35],26:[1.35,1.05,.85,.7,-.75,-.9,-1.2,-1.45],28:[1.4,1.1,.9,.75,-.7,-.85,-1.1,-1.4],30:[1.35,1.15,.95,-.65,-.85,-1.1,-1.35],32:[1.4,1.1,1,-.7,-.9,-1.15,-1.4],34:[1.4,1.15,1,-.7,-.9,-1.2],36:[1.3,1.1,.95,-.7,-.95,-1.2],38:[1.2,1,.85,-.65,-.85,-1.15],40:[1.1,.9,.7,-.6,-.8,-1.05],42:[1,.85,.65,.4,-.5,-.7,-.95],44:[.95,.7,.5,.35,-.4,-.65,-.85],46:[.8,.55,.35,.15,-.3,-.5,-.75],48:[.7,.45,.25,-.2,-.4,-.65],50:[.5,.25,.1,-.15,-.35,-.55]}
h_core_x = [15,18,22,26,30,35,40,44,47]
h_core_lo = [-.9,-1.15,-1.1,-.95,-.9,-.95,-.8,-.55,-.2]
h_core_hi = [.9,1.25,1.2,1.05,1.05,1.1,.9,.55,.2]
h_loess = [(.4,-.54),(3,-.31),(7.9,-.14),(14.8,-.08),(18.2,-.03),(22,.1),(26.5,-.07),(30.7,.03),(35.3,.12),(42.3,.03),(50.6,-.1),(58.9,-.31),(67.2,-.36),(76.8,-.41),(86.5,-.46),(100.3,-.58),(108.6,-.65),(119.7,-.76),(134.8,-1.02),(145.9,-1.29),(158.6,-1.63)]

# ---------- panel i ----------
i_pts = [(790,2.85),(320,2.82),(490,2.55),(250,2.54),(1040,2.55),(740,2.44),(1160,2.29),(620,2.23),(1230,2.15),(2300,2.19),(6350,2.09),(6020,1.69),(12790,1.87),(13460,1.59),(4570,1.55),(-70,1.81),(1600,1.87),(1500,1.64),(1850,1.39),(2540,1.35),(2990,1.35),(3280,1.24),(3530,1.2),
(6200,1.2),(5750,1.01),(6840,1.01),(7190,.95),(5950,.66),(6470,.61),(3210,1.02),(2540,1),(3460,.95),(4070,.94),(3630,.92),(2540,.86),(3090,.72),(3700,.72),(3630,.57),(11730,.89),(12270,.99),(14150,.89),(14250,.22),(10270,.83),(9430,.56),(9090,.45),(18960,.51),(19330,.21),(17900,.18),
(4690,.4),(4810,.31),(5060,.22),(6300,.32),(6670,.29),(7160,.23),(6020,.13),(8640,.22),(8720,.16),(8520,.08),(9140,.17),(9850,.13),(10520,.2),(11260,.12),(12220,.08),(8720,-.02),(5510,-.05),(6300,-.19),(10810,-.12),(2840,.54),(1980,.54),(2720,.4),(3700,.37),(3090,.31),(4320,.22),(3580,.19),(3830,-.16),(2840,-.1),(3210,-.33),(4690,-.3),(3580,-.3),
(15040,-.3),(17600,-.27),(7040,-.33),(7040,-.4),(8320,-.43),(7780,-.58),(6960,-.55),(14370,-.5),(10520,-.55),(9900,-.64),(18470,-.58),(19680,-.57),(26440,-.61),(4690,-.54),(4860,-.65),(4200,-.72),(3210,-.58),(3210,-.77),(2840,-.68),(2100,-.68),(1730,-.86),(2540,-.92),(3330,-1.08),(4070,-1.04),(2470,-1.08),
(5510,-.93),(6640,-1),(7280,-.89),(7530,-.81),(8270,-.81),(9260,-.99),(8270,-1.08),(7900,-1.12),(11260,-1),(10860,-1.24),(14370,-.83),(20540,-1.19),(28350,-1.74),(2100,-1.67),(1730,-1.73),(1850,-1.82),(2350,-1.9),(2990,-1.92),(3530,-1.78),(3700,-1.76),(4440,-1.77),
(3900,-2.12),(6990,-1.86),(7330,-1.98),(12940,-1.92),(1730,-2.68),(8520,-2.77),(14070,-3.32),(6990,-3.83),(1980,-3.28),(-70,-2.34),(370,-2.71),(400,-2.9),(670,-2.55),(990,-2.4),(320,-2.29),(490,-2.11),(0,-3.12),(370,-3.22),(570,-3.25),(1060,-3.15),(860,-3.34),(990,-3.35),(-70,.78),(-120,.69),(-120,.43),(-120,-.13),(-120,-.27),(-120,-.54)]
i_cols = {1500:[1.5,1,.6,.3,-.3,-.7,-1.2,-1.4],1800:[.8,.5,.1,-.4,-.8,-1.1],2100:[.6,.2,-.5,-.8],600:[-1.8,-1.95,-2.05],900:[-1.8,-2,-2.15,-2.25],1200:[-1.45,-1.6,-1.8],
300:[1.5,1.3,-1.4,-1.6],500:[1.95,2,-1.8,-1.9],800:[2.05,1.95,-1.85,-2],1100:[1.75,1.6,-1.7,-1.85],1300:[1.5,-1.55,-1.65],1600:[.9,.55,.2,-.4,-.9,-1.25],2300:[.75,.5,.1,-.4,-.75],2700:[.65,.45,.15,-.25,-.6],3050:[.45,.1,-.2,-.55],3400:[.4,.2,-.15,-.5],4000:[.35,.15,-.1,-.4]}
i_core_x = [100,250,1300,1450]
i_core_lo = [-1,-1.7,-1.7,-1.2]
i_core_hi = [1,1.7,1.7,1.2]
i_loess = [(70,-.19),(490,0),(1110,-.07),(1800,-.29),(2220,-.22),(2840,-.05),(3830,-.02),(5560,-.05),(7040,-.17),(9010,-.29),(11480,-.4),(13950,-.46),(16910,-.54),(19380,-.62),(21850,-.71),(24320,-.89),(26790,-1.09),(28350,-1.25)]

# ---------- axes ----------
conc_dom = [-7.9, 166.4]
pred_dom = [-7.6, 166.8]
ipred_dom = [-6.1, 134.8]
time_dom = [-1410, 29800]
conc_major, conc_minor = [0,50,100,150], [25,75,125]
pred_major, pred_minor = [0,50,100,150], [25,75,125]
ipred_major, ipred_minor = [0,50,100], [25,75,125]
time_major, time_minor = [0,10000,20000], [5000,15000,25000]
wres_dom, wres_major, wres_minor = [-3.35,4.66], [-2,0,2,4], [-3,-1,1,3]
iwres_dom, iwres_major, iwres_minor = [-6.0,4.22], [-4,-2,0,2,4], [-5,-3,-1,1,3]
npde_h_dom = [-4.16,3.16]
npde_i_dom = [-4.17,3.16]
npde_major, npde_minor = [-4,-2,0,2], [-3,-1,1,3]
g_x_dom, g_x_major, g_x_minor = [-4.39,4.42], [-4,-2,0,2,4], [-3,-1,1,3]
g_y_dom, g_y_major, g_y_minor = [-.025,.517], [0,.1,.2,.3,.4,.5], [.05,.15,.25,.35,.45]


def axis(values, title_px, orient, w, h, fmt=None):
    kw = dict(values=values, grid=False, domain=False, ticks=True, tickColor=BORDER, tickWidth=2, tickSize=9,
              labelColor="#4D4D4D", labelFont=FONT, labelFontSize=28, titleFont=FONT, titleFontSize=36.8,
              titleFontWeight="normal", titleColor="black", labelFlush=False, labelOverlap=False)
    if fmt:
        kw["format"] = fmt
    else:
        kw["labelExpr"] = "'' + datum.value"
    if orient == "bottom":
        kw.update(labelPadding=8, titleX=w / 2, titleY=82, titleAlign="center", titleBaseline="alphabetic")
    else:
        kw.update(labelPadding=9, titleX=title_px, titleY=h / 2, titleAlign="center", titleBaseline="alphabetic", titleAngle=270)
    return alt.Axis(**kw)


def grid_layers(xmaj, xmin, ymaj, ymin, xe, ye, w, h):
    out = []
    for vals, sw in ((xmin, 1.4), (xmaj, 3)):
        out.append(alt.Chart(pd.DataFrame({"x": vals})).mark_rule(color=GRID, strokeWidth=sw).encode(x=xe, y=alt.value(1.5), y2=alt.value(h - 1.5)))
    for vals, sw in ((ymin, 1.4), (ymaj, 3)):
        out.append(alt.Chart(pd.DataFrame({"y": vals})).mark_rule(color=GRID, strokeWidth=sw).encode(y=ye, x=alt.value(1.5), x2=alt.value(w - 1.5)))
    return out


def decorations(letter, lx, ly, anchor, h):
    one = pd.DataFrame({"k": [0]})
    return [
        alt.Chart(one).mark_rule(opacity=0).encode(x=alt.value(anchor), y=alt.value(-5), y2=alt.value(h + 95)),
        alt.Chart(one).mark_text(font=FONT, fontSize=44, fontWeight="bold", color="black", align="left", baseline="alphabetic").encode(
            x=alt.value(lx), y=alt.value(ly), text=alt.value(letter)),
    ]


def scatter_panel(letter, lx, ly, anchor, w, h, pts, cols, cx, clo, chi, loess, ref, xdom, ydom, xmaj, xmin, ymaj, ymin, xtitle, ytitle, ytitle_px):
    xe = alt.X("x:Q", scale=alt.Scale(domain=xdom, nice=False, zero=False), axis=axis(xmaj, 0, "bottom", w, h), title=xtitle)
    ye = alt.Y("y:Q", scale=alt.Scale(domain=ydom, nice=False, zero=False), axis=axis(ymaj, ytitle_px, "left", w, h), title=ytitle)
    rows = list(pts) + [(x, y) for x, ys in cols.items() for y in ys]
    layers = grid_layers(xmaj, xmin, ymaj, ymin, xe, ye, w, h)
    layers.append(alt.Chart(pd.DataFrame({"x": cx, "y": clo, "y2": chi})).mark_area(color="black", clip=True).encode(
        x=xe, y=ye, y2=alt.Y2("y2:Q")))
    layers.append(alt.Chart(pd.DataFrame(rows, columns=["x", "y"])).mark_point(filled=False, color="black", size=110, strokeWidth=1.8, opacity=1, clip=True).encode(x=xe, y=ye))
    layers.append(alt.Chart(pd.DataFrame(loess, columns=["x", "y"])).mark_line(color=BLUE, strokeWidth=5.5, clip=True).encode(x=xe, y=ye))
    layers.append(alt.Chart(pd.DataFrame(ref, columns=["x", "y"])).mark_line(color=RED, strokeWidth=3, clip=True).encode(x=xe, y=ye))
    layers += decorations(letter, lx, ly, anchor, h)
    return alt.layer(*layers).properties(width=w, height=h)


def hist_panel(letter, lx, ly, anchor, w, h):
    xe = alt.X("x:Q", scale=alt.Scale(domain=g_x_dom, nice=False, zero=False), axis=axis(g_x_major, 0, "bottom", w, h), title="NPDE")
    ye = alt.Y("y:Q", scale=alt.Scale(domain=g_y_dom, nice=False, zero=False), axis=axis(g_y_major, -77, "left", w, h, ".1f"), title="Density")
    layers = grid_layers(g_x_major, g_x_minor, g_y_major, g_y_minor, xe, ye, w, h)
    bars = pd.DataFrame({"x": g_edges[:-1], "x2": g_edges[1:], "y": g_heights, "y2": [0] * len(g_heights)})
    layers.append(alt.Chart(bars).mark_rect(color="#595959", stroke="#595959", strokeWidth=0.6).encode(x=xe, x2="x2:Q", y=ye, y2="y2:Q"))
    layers.append(alt.Chart(pd.DataFrame({"x": g_curve_x, "y": g_curve_y})).mark_line(color="black", strokeWidth=2.6, interpolate="monotone").encode(x=xe, y=ye))
    layers += decorations(letter, lx, ly, anchor, h)
    return alt.layer(*layers).properties(width=w, height=h)


W1, W2, H = 480, 516, 481.5
diag = [(-8, -8), (167, 167)]
zero_pred = [(-8, 0), (167, 0)]
zero_ipred = [(-7, 0), (135, 0)]
zero_time = [(-1500, 0), (30000, 0)]
POP, IND, TIME, CONC = "Population predictions (mg/L)", "Individual predictions (mg/L)", "Time (hours)", "Concentrations (mg/L)"

a = scatter_panel("a", -122, 34.5, -125.7, W1, H, a_pts, a_cols, a_core_x, a_core_lo, a_core_hi, a_loess, diag, conc_dom, conc_dom, conc_major, conc_minor, conc_major, conc_minor, POP, CONC, -86.2)
b = scatter_panel("b", -89.8, 34.5, -125, W2, H, b_pts, b_cols, b_core_x, b_core_lo, b_core_hi, b_loess, zero_pred, pred_dom, wres_dom, pred_major, pred_minor, wres_major, wres_minor, POP, "WRES", -59)
c = scatter_panel("c", -93.5, 34.5, -122, W2, H, c_pts, c_cols, c_core_x, c_core_lo, c_core_hi, c_loess, zero_time, time_dom, wres_dom, time_major, time_minor, wres_major, wres_minor, TIME, "WRES", -59)
d = scatter_panel("d", -122, 33, -125.7, W1, H, d_pts, d_cols, d_core_x, d_core_lo, d_core_hi, d_loess, diag, conc_dom, conc_dom, conc_major, conc_minor, conc_major, conc_minor, IND, CONC, -86.2)
e = scatter_panel("e", -92, 33, -125, W2, H, e_pts, e_cols, e_core_x, e_core_lo, e_core_hi, e_loess, zero_ipred, ipred_dom, iwres_dom, ipred_major, ipred_minor, iwres_major, iwres_minor, IND, "IWRES", -59)
f = scatter_panel("f", -97, 33, -122, W2, H, f_pts, f_cols, f_core_x, f_core_lo, f_core_hi, f_loess, zero_time, time_dom, iwres_dom, time_major, time_minor, iwres_major, iwres_minor, TIME, "IWRES", -59)
g = hist_panel("g", -109, 30, -109.5, 500.5, H)
h = scatter_panel("h", -90, 31, -120.5, W2, H, h_pts, h_cols, h_core_x, h_core_lo, h_core_hi, h_loess, zero_pred, pred_dom, npde_h_dom, pred_major, pred_minor, npde_major, npde_minor, POP, "NPDE", -60)
i = scatter_panel("i", -97, 31, -121.5, W2, H, i_pts, i_cols, i_core_x, i_core_lo, i_core_hi, i_loess, zero_time, time_dom, npde_i_dom, time_major, time_minor, npde_major, npde_minor, TIME, "NPDE", -60)

one = pd.DataFrame({"k": [0]})


def spacer():
    return alt.Chart(one).mark_rule(opacity=0).encode(x=alt.value(0), y=alt.value(0), y2=alt.value(1)).properties(
        width=1, height=1, view=alt.ViewConfig(stroke=None))


legend = alt.layer(
    alt.Chart(one).mark_rule(opacity=0).encode(x=alt.value(0), y=alt.value(0), y2=alt.value(55)),
    alt.Chart(one).mark_rule(color=BLUE, strokeWidth=5.5).encode(x=alt.value(803), x2=alt.value(847), y=alt.value(36)),
    alt.Chart(one).mark_text(font=FONT, fontSize=29.4, color="black", align="left", baseline="middle").encode(
        x=alt.value(873.6), y=alt.value(38), text=alt.value("Loess, smooth=0.5")),
).properties(width=1200, height=55, view=alt.ViewConfig(stroke=None))

row1 = alt.hconcat(spacer(), a, b, c, spacing=0)
row2 = alt.hconcat(spacer(), d, e, f, spacing=0)
row3 = alt.hconcat(spacer(), g, h, i, spacing=0)
chart = alt.vconcat(row1, row2, row3, legend, spacing=24.3).properties(
    padding={"left": 0, "top": 2, "right": 0, "bottom": 0}, background="white"
).configure_view(stroke=BORDER, strokeWidth=2.5, fill="white")

chart.save("out.html", embed_options={"renderer": "svg", "actions": False})
